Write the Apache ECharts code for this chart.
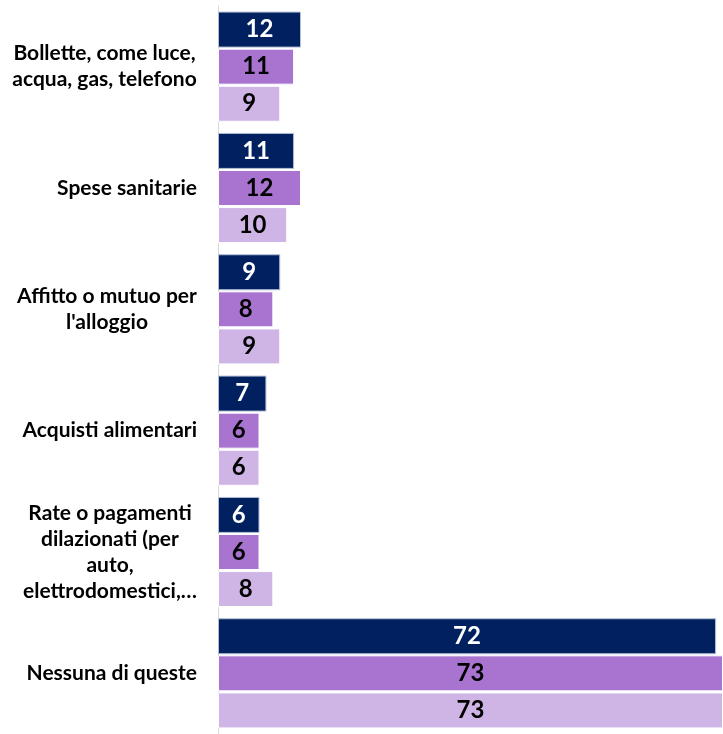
<!DOCTYPE html>
<html>
<head>
<meta charset="utf-8">
<script src="https://cdn.jsdelivr.net/npm/echarts@6/dist/echarts.min.js"></script>
<style>
  html, body { margin: 0; padding: 0; background: #fff; }
  #chart { width: 723px; height: 734px; }
</style>
</head>
<body>
<div id="chart"></div>
<script>
  // categorie (dall'alto verso il basso)
  var categories = [
    'Bollette, come luce,\nacqua, gas, telefono',
    'Spese sanitarie',
    'Affitto o mutuo per\nl\'alloggio',
    'Acquisti alimentari',
    'Rate o pagamenti\ndilazionati (per\nauto,\nelettrodomestici,…',
    'Nessuna di queste'
  ];
  var serie1 = [12, 11, 9, 7, 6, 72];
  var serie2 = [11, 12, 8, 6, 6, 73];
  var serie3 = [9, 10, 9, 6, 8, 73];

  var catSize = 21;
  var ctx = document.createElement('canvas').getContext('2d');
  ctx.font = 'bold ' + catSize + 'px Lato';

  function blockWidth(v) {
    var w = 0;
    v.split('\n').forEach(function (l) { w = Math.max(w, ctx.measureText(l).width); });
    return Math.ceil(w);
  }

  // testo a capo: blocco allineato a destra, righe centrate
  function catLabel(value) {
    var lines = value.split('\n');
    if (lines.length === 1) return value;
    var key = 'c' + blockWidth(value);
    return lines.map(function (l) { return '{' + key + '|' + l + '}'; }).join('\n');
  }

  var rich = {};
  categories.forEach(function (v) {
    if (v.indexOf('\n') >= 0) {
      var w = blockWidth(v);
      rich['c' + w] = {
        width: w, align: 'center', fontFamily: 'Lato', fontWeight: 'bold',
        fontSize: catSize, lineHeight: 26, color: '#000'
      };
    }
  });

  var chart = echarts.init(document.getElementById('chart'));

  function barSerie(name, data, color, textColor, border) {
    return {
      name: name,
      type: 'bar',
      data: data,
      barWidth: 36,
      barGap: '3%',
      itemStyle: { color: color, borderColor: border, borderWidth: 1 },
      label: {
        show: true,
        position: 'inside',
        color: textColor,
        fontFamily: 'Lato',
        fontWeight: 'bold',
        fontSize: 24
      }
    };
  }

  var option = {
    animation: false,
    grid: { left: 218, right: -2, top: 6, bottom: -6, containLabel: false },
    xAxis: {
      type: 'value',
      min: 0,
      max: 73,
      show: false
    },
    yAxis: {
      type: 'category',
      data: categories,
      inverse: true,
      axisTick: { show: false },
      axisLine: { show: true, lineStyle: { color: '#d9d9d9', width: 1 } },
      axisLabel: {
        margin: 21,
        align: 'right',
        color: '#000',
        fontFamily: 'Lato',
        fontWeight: 'bold',
        fontSize: catSize,
        lineHeight: 26,
        formatter: catLabel,
        rich: rich
      }
    },
    series: [
      barSerie('Serie 1', serie1, '#002060', '#fff', '#b4bfd6'),
      barSerie('Serie 2', serie2, '#a874d0', '#000', '#fff'),
      barSerie('Serie 3', serie3, '#cfb4e6', '#000', '#fff')
    ]
  };
  chart.setOption(option);
</script>
</body>
</html>
